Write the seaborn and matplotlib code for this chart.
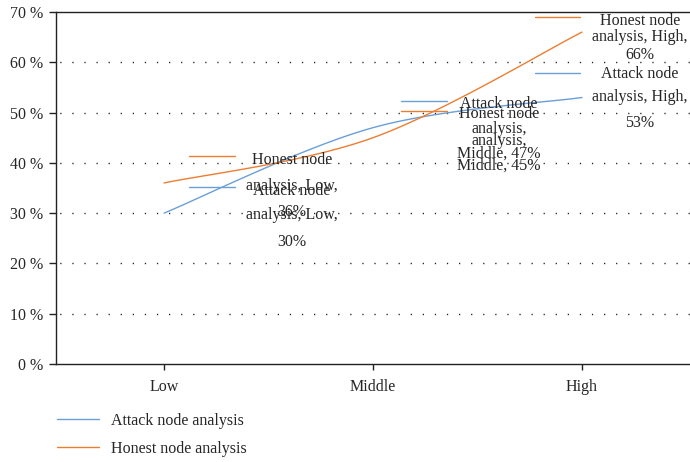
import textwrap

import numpy as np
import pandas as pd
import matplotlib
matplotlib.use("Agg")
import matplotlib.pyplot as plt
from matplotlib.lines import Line2D
from matplotlib.transforms import IdentityTransform
import seaborn as sns

# ---- data -------------------------------------------------------------
categories = ["Low", "Middle", "High"]
attack_values = [30, 47, 53]
honest_values = [36, 45, 66]
series_names = ["Attack node analysis", "Honest node analysis"]
series_colors = ["#6a9fd8", "#ed7d31"]
y_ticks = [0, 10, 20, 30, 40, 50, 60, 70]
y_tick_labels = [f"{v} %" for v in y_ticks]

series_values = {series_names[0]: attack_values, series_names[1]: honest_values}

# ---- style ------------------------------------------------------------
sns.set_style("white")
plt.rcParams["font.family"] = ["Liberation Serif", "DejaVu Serif"]
plt.rcParams["lines.scale_dashes"] = True
text_color = "#262626"
FS = 11.5

W, H = 690, 462
fig = plt.figure(figsize=(W / 100, H / 100), dpi=100)
ax = fig.add_axes([56 / W, (H - 364) / H, (W - 56) / W, (364 - 12) / H])


def smooth_curve(values, steps=40):
    """Catmull-Rom curve through the category points (end points repeated)."""
    y = np.asarray(values, float)
    x = np.arange(len(y), dtype=float)
    xp = np.concatenate([[x[0]], x, [x[-1]]])
    yp = np.concatenate([[y[0]], y, [y[-1]]])
    t = np.linspace(0, 1, steps)[:, None]
    out_x, out_y = [], []
    for i in range(len(y) - 1):
        for arr, out in ((xp, out_x), (yp, out_y)):
            p0, p1, p2, p3 = arr[i:i + 4]
            seg = 0.5 * (2 * p1 + (-p0 + p2) * t
                         + (2 * p0 - 5 * p1 + 4 * p2 - p3) * t ** 2
                         + (-p0 + 3 * p1 - 3 * p2 + p3) * t ** 3)
            out.append(seg.ravel() if i == 0 else seg.ravel()[1:])
    return np.concatenate(out_x), np.concatenate(out_y)


frames = []
for name in series_names:
    sx, sy = smooth_curve(series_values[name])
    frames.append(pd.DataFrame({"pos": sx, "value": sy, "series": name}))
df = pd.concat(frames, ignore_index=True)

sns.lineplot(data=df, x="pos", y="value", hue="series", hue_order=series_names,
             palette=series_colors, sort=False, estimator=None, linewidth=1.0,
             legend=False, ax=ax)

# ---- axes -------------------------------------------------------------
ax.set_xlim(-0.517, 2.517)
ax.set_ylim(0, 70)
ax.set_xticks(range(len(categories)))
ax.set_xticklabels(categories)
ax.set_yticks(y_ticks)
ax.set_yticklabels(y_tick_labels)
ax.set_xlabel("")
ax.set_ylabel("")
ax.tick_params(axis="y", direction="out", length=5, width=1.0, pad=4.5,
               labelsize=FS, labelcolor=text_color, color="#222222", left=True)
ax.tick_params(axis="x", direction="out", length=4, width=1.0, pad=7,
               labelsize=FS, labelcolor=text_color, color="#222222", bottom=True)
for side in ("left", "bottom", "top"):
    ax.spines[side].set_visible(True)
    ax.spines[side].set_color("#222222")
    ax.spines[side].set_linewidth(1.0)
ax.spines["right"].set_visible(False)

# sparse dotted gridlines (about one dot every 12 px)
for v in y_ticks[1:-1]:
    ax.axhline(v, color="#222222", linewidth=1.0, linestyle=(6, (0.9, 7.8)),
               zorder=0)

# ---- data labels with legend keys ------------------------------------
# offsets in pixels relative to the point (y measured downwards)
label_layout = {
    ("Attack", "Low"): dict(dx=128, lines=[-22, 2, 29], key=(25, 71, -26)),
    ("Honest", "Low"): dict(dx=128, lines=[-23, 3, 29], key=(25, 71, -27)),
    ("Attack", "Middle"): dict(dx=126, lines=[-24, 1, 26], key=(28, 74, -27)),
    ("Honest", "Middle"): dict(dx=126, lines=[-24, 3, 28], key=(28, 74, -27)),
    ("Attack", "High"): dict(dx=58, lines=[-23, 0, 26], key=(-47, -2, -24)),
    ("Honest", "High"): dict(dx=58, lines=[-11, 5, 23], key=(-47, -2, -15)),
}

ident = IdentityTransform()
for name, color in zip(series_names, series_colors):
    short = name.split()[0]
    for i, (cat, val) in enumerate(zip(categories, series_values[name])):
        lay = label_layout[(short, cat)]
        px, py = ax.transData.transform((i, val))
        k0, k1, kdy = lay["key"]
        ax.add_line(Line2D([px + k0, px + k1], [py - kdy, py - kdy],
                           color=color, linewidth=1.0, transform=ident,
                           clip_on=False))
        text = f"{name}, {cat}, {val}%"
        for line, dy in zip(textwrap.wrap(text, 15), lay["lines"]):
            ax.text(px + lay["dx"], py - dy, line, transform=ident,
                    ha="center", va="center", fontsize=FS, color=text_color,
                    clip_on=False)

# ---- legend -----------------------------------------------------------
handles = [Line2D([], [], color=c, linewidth=1.0) for c in series_colors]
fig.legend(handles, series_names, loc="upper left",
           bbox_to_anchor=(57 / W, (H - 413) / H), frameon=False,
           fontsize=FS, labelcolor=text_color, handlelength=2.6,
           handletextpad=0.8, labelspacing=0.75, borderpad=0,
           borderaxespad=0)

fig.savefig("out.png", dpi=100)
